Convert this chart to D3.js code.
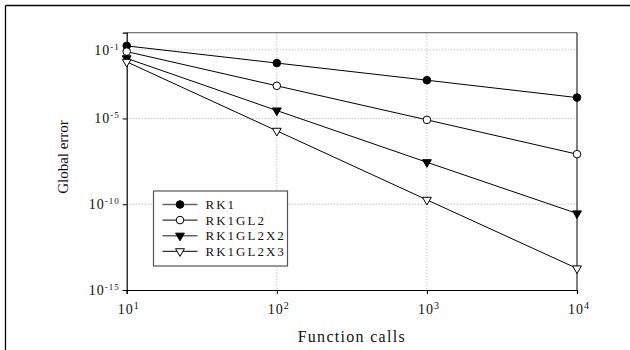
<!DOCTYPE html>
<html>
<head>
<meta charset="utf-8">
<script src="https://cdn.jsdelivr.net/npm/d3@7"></script>
<style>
  body { margin: 0; background: #fff; }
  svg { display: block; }
</style>
</head>
<body>
<div id="chart"></div>
<script>
// function calls (x)
var calls = [10, 100, 1000, 10000];

// global error per method
var rk1       = [1.7e-1, 1.7e-2, 1.7e-3, 1.65e-4];
var rk1gl2    = [7.9e-2, 8.0e-4, 8.3e-6, 8.3e-8];
var rk1gl2x2  = [3.2e-2, 2.9e-5, 2.8e-8, 2.9e-11];
var rk1gl2x3  = [2.0e-2, 1.9e-6, 1.8e-10, 1.8e-14];

var names   = ["RK1", "RK1GL2", "RK1GL2X2", "RK1GL2X3"];
var symbols = ["dot", "circle", "tridown", "tridown-open"];

var xTicks = [10, 100, 1000, 10000];
var xExp   = ["1", "2", "3", "4"];
var yTicks = [1e-1, 1e-5, 1e-10, 1e-15];
var yExp   = ["-1", "-5", "-10", "-15"];

var series = [rk1, rk1gl2, rk1gl2x2, rk1gl2x3];

var serif = '"Liberation Serif", "Times New Roman", serif';

var W = 630, H = 350;
var margin = { top: 32.7, right: 53, bottom: 60, left: 126.7 };
var width = W - margin.left - margin.right,
    height = H - margin.top - margin.bottom;

var svg = d3.select('#chart')
    .append('svg')
    .attr('width', W)
    .attr('height', H)
    .attr('font-family', serif);

// outer frame (only top and left edges show)
svg.append('line')
    .attr('x1', 5.5).attr('x2', W)
    .attr('y1', 5.5).attr('y2', 5.5)
    .attr('stroke', '#000').attr('stroke-width', 1.3);
svg.append('line')
    .attr('x1', 5.5).attr('x2', 5.5)
    .attr('y1', 5.5).attr('y2', H)
    .attr('stroke', '#000').attr('stroke-width', 1.3);

var g = svg.append('g')
    .attr('transform', 'translate(' + margin.left + ',' + margin.top + ')');

var x = d3.scaleLog()
    .domain([10, 10000])
    .range([0, width]);

var y = d3.scaleLog()
    .domain([1e-15, 1])
    .range([height, 0]);

// grid lines
g.selectAll('.hgrid')
    .data(yTicks.slice(0, 3))
    .enter().append('line')
    .attr('x1', 0).attr('x2', width)
    .attr('y1', d => y(d)).attr('y2', d => y(d))
    .attr('stroke', '#aaa')
    .attr('stroke-dasharray', '1,2');

g.selectAll('.vgrid')
    .data(xTicks.slice(1, 3))
    .enter().append('line')
    .attr('x1', d => x(d)).attr('x2', d => x(d))
    .attr('y1', 0).attr('y2', height)
    .attr('stroke', '#aaa')
    .attr('stroke-dasharray', '1,2');

// top and right frame
g.append('line')
    .attr('x1', 0).attr('x2', width)
    .attr('y1', 0).attr('y2', 0)
    .attr('stroke', '#777').attr('stroke-width', 1.2);
g.append('line')
    .attr('x1', width).attr('x2', width)
    .attr('y1', 0).attr('y2', height)
    .attr('stroke', '#000').attr('stroke-width', 1);

// axes
var xAxis = d3.axisBottom(x).tickValues(xTicks).tickSize(4).tickFormat('');
var yAxis = d3.axisLeft(y).tickValues(yTicks).tickSize(4).tickFormat('');

g.append('g')
    .attr('transform', 'translate(0,' + height + ')')
    .call(xAxis)
    .call(a => a.select('.domain').attr('stroke-width', 1.2));
g.append('g')
    .call(yAxis)
    .call(a => a.select('.domain').attr('stroke-width', 1.2));

// x tick labels
xTicks.forEach(function (t, i) {
    var tx = g.append('text')
        .attr('x', x(t) + 2)
        .attr('y', height + 24)
        .attr('text-anchor', 'middle')
        .attr('font-family', serif)
        .attr('fill', '#111')
        .style('font-size', '14px')
        .style('letter-spacing', '1px');
    tx.append('tspan').text('10');
    tx.append('tspan').attr('dy', -5).style('font-size', '10px').text(xExp[i]);
});

// y tick labels
yTicks.forEach(function (t, i) {
    var ty = g.append('text')
        .attr('x', -7)
        .attr('y', y(t) + 5)
        .attr('text-anchor', 'end')
        .attr('font-family', serif)
        .attr('fill', '#111')
        .style('font-size', '14px')
        .style('letter-spacing', '1px');
    ty.append('tspan').text('10');
    ty.append('tspan').attr('dy', -5).style('font-size', '9px').text(yExp[i]);
});

// axis titles
svg.append('text')
    .attr('x', margin.left + width / 2)
    .attr('y', 341.5)
    .attr('text-anchor', 'middle')
    .attr('font-family', serif)
    .attr('fill', '#111')
    .style('font-size', '16px')
    .style('letter-spacing', '1.3px')
    .text('Function calls');

svg.append('text')
    .attr('transform', 'translate(68,157) rotate(-90)')
    .attr('text-anchor', 'middle')
    .attr('font-family', serif)
    .attr('fill', '#111')
    .style('font-size', '15px')
    .text('Global error');

// lines + markers
var line = d3.line()
    .x((d, i) => x(calls[i]))
    .y(d => y(d));

var tri = d3.symbol().type(d3.symbolTriangle).size(34);

function marker(sel, kind, cx, cy) {
    if (kind === 'dot' || kind === 'circle') {
        sel.append('circle')
            .attr('cx', cx).attr('cy', cy).attr('r', 3.8)
            .attr('fill', kind === 'dot' ? '#000' : '#fff')
            .attr('stroke', '#000').attr('stroke-width', 1);
    } else {
        sel.append('path')
            .attr('d', tri())
            .attr('transform', 'translate(' + cx + ',' + cy + ') rotate(180)')
            .attr('fill', kind === 'tridown' ? '#000' : '#fff')
            .attr('stroke', '#000').attr('stroke-width', 1);
    }
}

series.forEach(function (s, k) {
    g.append('path')
        .datum(s)
        .attr('d', line)
        .attr('fill', 'none')
        .attr('stroke', '#000')
        .attr('stroke-width', 1);
    s.forEach(function (v, i) {
        marker(g, symbols[k], x(calls[i]), y(v));
    });
});

// legend
var lg = svg.append('g').attr('transform', 'translate(153.5,191)');
lg.append('rect')
    .attr('width', 134).attr('height', 75)
    .attr('fill', '#fff')
    .attr('stroke', '#555').attr('stroke-width', 1.2);

names.forEach(function (n, k) {
    var ly = 13.5 + k * 15.6;
    lg.append('line')
        .attr('x1', 9).attr('x2', 44)
        .attr('y1', ly).attr('y2', ly)
        .attr('stroke', k % 2 === 0 ? '#666' : '#000')
        .attr('stroke-width', k % 2 === 0 ? 1.6 : 1);
    marker(lg, symbols[k], 26.5, ly);
    lg.append('text')
        .attr('x', 52)
        .attr('y', ly + 4.5)
        .attr('font-family', serif)
        .attr('fill', '#111')
        .style('font-size', '13px')
        .style('letter-spacing', '2px')
        .text(n);
});
</script>
</body>
</html>
